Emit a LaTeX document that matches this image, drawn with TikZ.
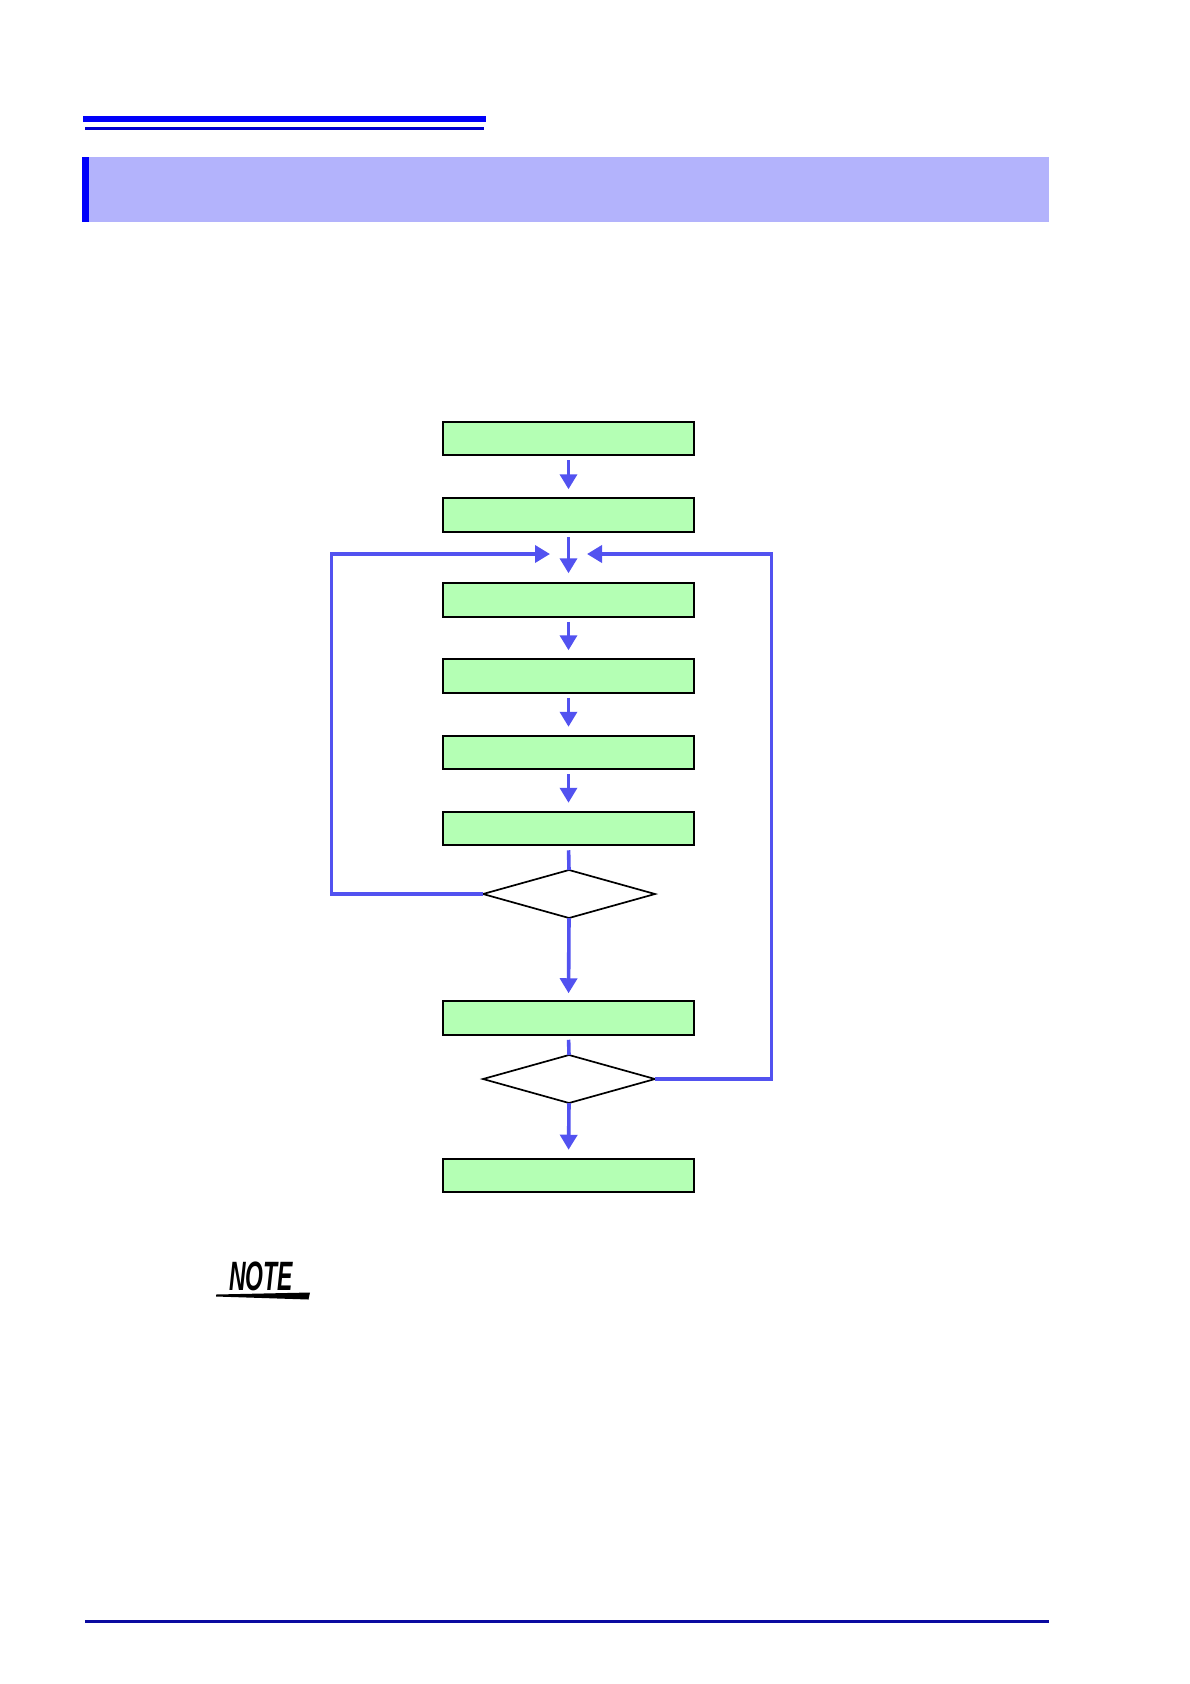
\documentclass[tikz,border=0pt]{standalone}
\usepackage{fontspec}
\usetikzlibrary{arrows.meta,shapes.geometric}
\newfontfamily\notefont{Liberation Sans}
\definecolor{boxgreen}{RGB}{180,255,180}
\definecolor{flowblue}{RGB}{82,82,240}
\definecolor{bannerfill}{RGB}{179,179,252}
\definecolor{barblue}{RGB}{0,0,250}
\definecolor{thinblue}{RGB}{0,0,205}
\definecolor{footblue}{RGB}{10,10,160}
\tikzset{
  stepbox/.style={draw=black, line width=2pt, fill=boxgreen, minimum width=251.5pt, minimum height=33.5pt, inner sep=0pt, outer sep=0pt},
  decide/.style={draw=black, line width=1.7pt, fill=white, diamond, aspect=3.58, minimum width=172pt, minimum height=48pt, inner sep=0pt, outer sep=0pt},
  flow/.style={draw=flowblue, line width=3.6pt},
  flowarrow/.style={flow, -{Triangle[length=15pt,width=17pt]}},
}
\begin{document}
\begin{tikzpicture}[x=1pt,y=-1pt]
\useasboundingbox (0,0) rectangle (1190,1684);
% header lines
\fill[barblue] (83,116) rectangle (486,122);
\fill[thinblue] (85,127) rectangle (484,129.5);
% banner
\fill[bannerfill] (82,157) rectangle (1049,222);
\fill[barblue] (82,157) rectangle (89,222);
% boxes
\node[stepbox] (b1) at (568.5,438.5) {};
\node[stepbox] (b2) at (568.5,515) {};
\node[stepbox] (b3) at (568.5,600) {};
\node[stepbox] (b4) at (568.5,676) {};
\node[stepbox] (b5) at (568.5,752.5) {};
\node[stepbox] (b6) at (568.5,828.5) {};
\node[decide] (d1) at (569,894) {};
\node[stepbox] (b7) at (568.5,1018) {};
\node[decide] (d2) at (569,1079) {};
\node[stepbox] (b8) at (568.5,1175.5) {};
\coordinate (jl) at (550,554);
\coordinate (jr) at (587,554);
% connectors
\draw[flowarrow, shorten <=5pt, shorten >=9pt] (b1) -- (b2);
\draw[flowarrow, shorten <=5pt, shorten >=10pt] (b2) -- (b3);
\draw[flowarrow, shorten <=5pt, shorten >=9pt] (b3) -- (b4);
\draw[flowarrow, shorten <=5pt, shorten >=9pt] (b4) -- (b5);
\draw[flowarrow, shorten <=5pt, shorten >=9pt] (b5) -- (b6);
\draw[flow, shorten <=5pt] (b6.south) -- (d1.north);
\draw[flowarrow, shorten >=8pt] (d1.south) -- (b7.north);
\draw[flow, shorten <=5pt] (b7.south) -- (d2.north);
\draw[flowarrow, shorten >=9pt] (d2.south) -- (b8.north);
\draw[flowarrow] (d1.west) -- (331.5,894) -- (331.5,554) -- (jl);
\draw[flowarrow] (d2.east) -- (771.5,1079) -- (771.5,554) -- (jr);
% NOTE mark
\node[inner sep=0pt, anchor=base, xscale=0.56] (note) at (261,1290) {\notefont\bfseries\itshape\fontsize{41}{41}\selectfont NOTE};
\fill[black] (216,1294.5) -- (310,1292.5) -- (308.5,1299.5) -- (216,1296.5) -- cycle;
% footer line
\fill[footblue] (85,1619.5) rectangle (1049,1622.5);
\end{tikzpicture}
\end{document}
